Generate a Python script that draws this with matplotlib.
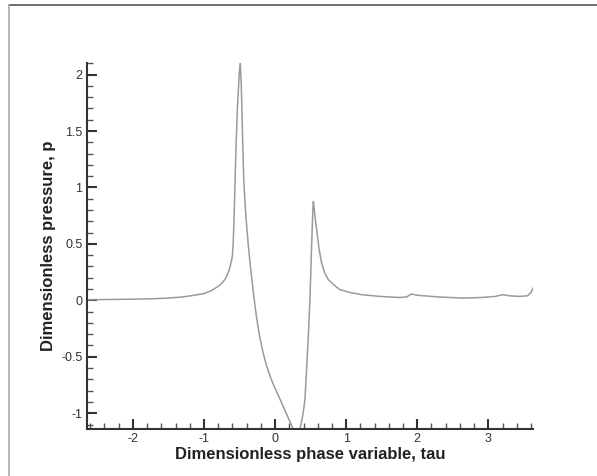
import matplotlib
matplotlib.use("Agg")
import matplotlib.pyplot as plt
from matplotlib.ticker import MultipleLocator
from matplotlib.lines import Line2D

tau = [-2.65, -2.3, -2.0, -1.7, -1.5, -1.3, -1.19, -1.0, -0.9, -0.81, -0.75, -0.70,
       -0.67, -0.645, -0.625, -0.61, -0.60, -0.59, -0.578, -0.565, -0.55, -0.53, -0.505,
       -0.49, -0.475, -0.455, -0.44, -0.41, -0.375, -0.345, -0.32, -0.30, -0.28,
       -0.26, -0.24, -0.21, -0.17, -0.12, -0.06, 0.0, 0.07, 0.15, 0.235,
       0.30, 0.33, 0.39, 0.42, 0.44, 0.47, 0.49, 0.515, 0.53, 0.538, 0.55, 0.565,
       0.585, 0.62, 0.655, 0.70, 0.75, 0.84, 0.91, 1.05, 1.22, 1.47, 1.615, 1.755,
       1.85, 1.92, 2.0, 2.3, 2.64, 2.9, 3.1, 3.2, 3.3, 3.44, 3.55, 3.6, 3.63]
pressure = [0.005, 0.008, 0.010, 0.015, 0.020, 0.030, 0.040, 0.060, 0.085, 0.12, 0.15, 0.19,
            0.23, 0.27, 0.32, 0.36, 0.40, 0.50, 0.70, 1.00, 1.35, 1.70, 2.00,
            2.11, 1.90, 1.40, 1.05, 0.74, 0.477, 0.29, 0.15, 0.04, -0.06,
            -0.15, -0.235, -0.34, -0.46, -0.58, -0.69, -0.78, -0.877, -0.99, -1.113,
            -1.20, -1.20, -1.02, -0.88, -0.65, -0.29, 0.0, 0.50, 0.78, 0.875, 0.82, 0.72,
            0.625, 0.45, 0.33, 0.24, 0.183, 0.13, 0.095, 0.07, 0.05, 0.035, 0.03, 0.025,
            0.03, 0.056, 0.045, 0.03, 0.02, 0.025, 0.035, 0.05, 0.04, 0.035, 0.04, 0.07, 0.11]

xticks = [-2, -1, 0, 1, 2, 3]
yticks = [-1, -0.5, 0, 0.5, 1, 1.5, 2]
ytick_labels = ["-1", "-0.5", "0", "0.5", "1", "1.5", "2"]

plt.rcParams['font.family'] = ['Liberation Sans', 'DejaVu Sans']

fig = plt.figure(figsize=(5.97, 4.76), dpi=100)
ax = fig.add_axes([0.1452, 0.0987, 0.893 - 0.1452, 0.867 - 0.0987])
ax.plot(tau, pressure, color='#9a9a9a', lw=1.1, clip_on=True)
ax.set_xlim(-2.65, 3.63)
ax.set_ylim(-1.14, 2.10)

for s in ['top', 'right']:
    ax.spines[s].set_visible(False)
for s in ['left', 'bottom']:
    ax.spines[s].set_color('#333333')
    ax.spines[s].set_linewidth(1.5)

ax.set_xticks(xticks)
ax.set_xticklabels([str(t) for t in xticks])
ax.set_yticks(yticks)
ax.set_yticklabels(ytick_labels)
ax.xaxis.set_minor_locator(MultipleLocator(0.2))
ax.yaxis.set_minor_locator(MultipleLocator(0.1))
ax.tick_params(which='major', direction='in', length=7, width=1.5, color='#333333',
               labelsize=9, labelcolor='#333333', pad=3)
ax.tick_params(which='minor', direction='in', length=4, width=1.0, color='#555555')

ax.set_xlabel('Dimensionless phase variable, tau', fontsize=12, fontweight='bold',
              color='#222222', labelpad=1)
ax.set_ylabel('Dimensionless pressure, p', fontsize=12, fontweight='bold',
              color='#222222', labelpad=4)

# window frame edges
fig.add_artist(Line2D([9/597, 1.0], [1 - 5/476, 1 - 5/476], transform=fig.transFigure,
                      color='#555555', lw=1.2))
fig.add_artist(Line2D([9/597, 9/597], [0.0, 1 - 5/476], transform=fig.transFigure,
                      color='#aaaaaa', lw=1.2))

fig.savefig('out.png', dpi=100)
